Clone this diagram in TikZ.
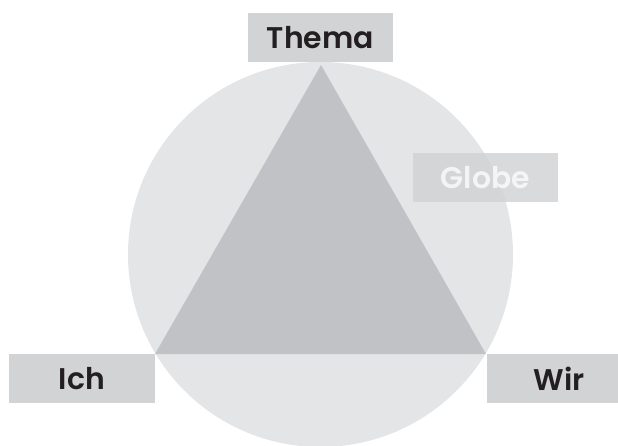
\documentclass[tikz,border=0pt]{standalone}
\usepackage{fontspec}
\setmainfont{Poppins}[BoldFont={Poppins SemiBold}]
\definecolor{globefill}{HTML}{E4E5E7}
\definecolor{trifill}{HTML}{C1C2C5}
\definecolor{boxfill}{HTML}{D2D3D5}
\definecolor{textdark}{HTML}{231F20}
\begin{document}
\begin{tikzpicture}[x=1bp,y=-1bp,
  label box/.style={fill=boxfill, minimum width=145bp, minimum height=49bp,
    inner sep=0pt, font=\fontsize{30}{36}\selectfont\bfseries, text=textdark}]
\useasboundingbox (0,0) rectangle (618,446);
\begin{scope}
  \coordinate (top) at (321,65);
  \coordinate (left) at (155,354);
  \coordinate (right) at (486,354);
  \fill[globefill] (320.5,254.5) circle (192.5);
  \fill[trifill] (top) -- (left) -- (right) -- cycle;
  \node[label box] (thema) at (320.5,37.5) {Thema};
  \node[label box] (ich) at (82,378.5) {Ich};
  \node[label box] (wir) at (559,378.5) {Wir};
  \node[label box, fill opacity=0.85, text opacity=0.75, text=white] (globe) at (485.5,178) {Globe};
\end{scope}
\end{tikzpicture}
\end{document}
